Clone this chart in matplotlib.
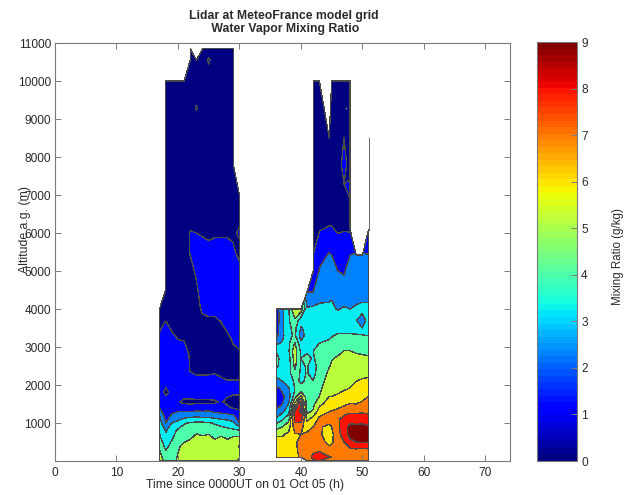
import numpy as np
import matplotlib
matplotlib.use('Agg')
import matplotlib.pyplot as plt
from matplotlib.cm import ScalarMappable
from matplotlib.colors import Normalize

N = np.nan

plt.rcParams['font.family'] = ['Liberation Sans', 'DejaVu Sans']

# first measurement block, one list per time, bottom to top
alt_a = [0, 200, 400, 600, 800, 1000, 1200, 1400, 1550, 1800, 2000, 2400, 2800, 3200, 3600, 4000,
         4500, 5000, 5500, 6000, 6500, 7000, 7800, 9000, 9300, 9600, 10000, 10550, 10850]
time_a = [17, 18, 19, 20, 21, 22, 23, 24, 25, 26, 27, 28, 29, 30]
t17 = [5.6, 5.2, 4.8, 4.2, 3.9, 3.5, 3.0, 2.0, 1.6, 1.5, 1.6, 1.6, 1.6, 1.2, 0.8, 0.7] + [N] * 13
t18 = [4.6, 4.2, 3.7, 3.3, 2.9, 2.0, 1.6, 1.5, 1.5, 0.8, 1.1, 1.6, 1.6, 1.4, 1.1, 0.6] + [0.6] * 11 + [N, N]
t19 = [4.8, 4.6, 4.3, 3.9, 3.5, 3.0, 2.1, 1.6, 1.5, 1.2, 1.4, 1.5, 1.5, 1.2, 0.8, 0.6] + [0.6] * 11 + [N, N]
t20 = [5.1, 5.0, 4.8, 4.4, 4.2, 3.3, 2.4, 1.6, 1.1, 1.5, 1.5, 1.5, 1.5, 1.0, 0.8, 0.6] + [0.6] * 11 + [N, N]
t21 = [5.4, 5.4, 5.3, 4.6, 4.4, 3.9, 2.5, 1.5, 0.8, 1.4, 1.4, 1.3, 1.4, 0.95, 0.7, 0.6] + [0.6] * 11 + [N, N]
t22 = [5.5, 5.5, 5.6, 4.9, 4.5, 4.1, 2.6, 1.4, 0.8, 1.4, 1.3, 0.95, 0.9, 0.8, 0.7, 0.6,
       0.6, 0.8, 1.05, 1.05, 0.6, 0.6, 0.6, 0.6, 0.6, 0.6, 0.6, 0.6, 0.6]
t23 = [5.5, 5.6, 5.7, 5.4, 4.7, 4.2, 2.7, 1.5, 0.8, 1.5, 1.4, 0.8, 0.7, 0.7, 0.7, 0.8,
       0.9, 1.1, 1.3, 1.0, 0.6, 0.6, 0.6, 0.6, 1.1, 0.6, 0.6, 0.7, N]
t24 = [5.5, 5.6, 5.6, 5.2, 4.6, 4.2, 2.6, 1.5, 0.8, 1.6, 1.4, 0.8, 0.7, 0.7, 0.8, 1.1,
       1.3, 1.4, 1.4, 0.9, 0.6, 0.6, 0.6, 0.6, 0.6, 0.6, 0.6, 0.6, 0.6]
t25 = [5.5, 5.6, 5.6, 5.3, 4.7, 4.1, 2.6, 1.6, 0.8, 1.6, 1.4, 0.8, 0.7, 0.7, 0.8, 1.2,
       1.4, 1.4, 1.3, 0.8, 0.6, 0.6, 0.6, 0.6, 0.6, 0.6, 0.6, 1.1, 0.6]
t26 = [5.5, 5.6, 5.6, 4.9, 4.5, 3.9, 2.4, 1.4, 0.9, 1.4, 1.3, 0.9, 0.7, 0.7, 0.8, 1.2,
       1.4, 1.4, 1.3, 0.9, 0.6, 0.6, 0.6, 0.6, 0.6, 0.6, 0.6, 0.6, 0.6]
t27 = [5.5, 5.5, 5.6, 5.2, 4.4, 3.7, 2.3, 1.3, 1.1, 1.3, 1.1, 0.9, 0.7, 0.7, 0.95, 1.3,
       1.4, 1.4, 1.3, 0.9, 0.6, 0.6, 0.6, 0.6, 0.6, 0.6, 0.6, 0.6, 0.6]
t28 = [5.6, 5.5, 5.5, 4.9, 4.3, 3.5, 2.2, 1.2, 0.8, 1.2, 1.1, 0.8, 0.7, 0.8, 1.2, 1.4,
       1.4, 1.4, 1.3, 0.9, 0.6, 0.6, 0.6, 0.6, 0.6, 0.6, 0.6, 0.6, 0.6]
t29 = [5.7, 5.7, 5.5, 5.2, 4.2, 3.2, 2.1, 0.9, 0.7, 1.1, 1.1, 0.8, 0.8, 1.1, 1.3, 1.4,
       1.4, 1.4, 1.1, 0.9, 0.6, 0.6, 0.6, 0.6, 0.6, 0.6, 0.6, 0.6, 0.6]
t30 = [6.2, 5.7, 6.1, 5.2, 4.1, 2.0, 1.5, 0.8, 0.7, 1.1, 1.1, 0.8, 0.9, 1.2, 1.3, 1.4,
       1.4, 1.2, 0.8, 1.1, 0.8, 0.6] + [N] * 7

# second measurement block
alt_b = [0, 100, 300, 500, 700, 900, 1100, 1300, 1500, 1700, 1900, 2100, 2300, 2500, 2700, 2900,
         3100, 3300, 3500, 3700, 4000, 4450, 5000, 5420, 6080, 6500, 7300, 7800, 8500, 10000]
time_b = [36, 37, 38, 39, 40, 41, 42, 43, 44.6, 45, 46, 47, 48, 49, 50, 51]
t36 = [N, 6.5, 6.4, 6.3, 5.9, 4.5, 3.2, 2.2, 1.6, 1.4, 1.7, 2.5, 3.5, 4.2, 4.3, 3.9, 2.8, 1.7, 1.5, 1.4, 1.4] + [N] * 9
t37 = [N, 6.4, 6.4, 6.3, 5.9, 5.0, 3.9, 2.8, 2.0, 1.8, 2.2, 3.0, 3.3, 3.5, 3.6, 3.4, 3.1, 2.8, 2.8, 2.8, 2.9] + [N] * 9
t38 = [N, 6.3, 6.4, 6.4, 6.2, 5.6, 4.7, 3.6, 3.0, 2.5, 2.9, 3.3, 3.6, 3.5, 3.6, 3.9, 3.8, 3.7, 3.8, 3.9, 3.9] + [N] * 9
t39 = [N, 6.6, 6.8, 6.9, 6.9, 7.5, 8.4, 8.0, 6.3, 4.5, 4.0, 4.2, 4.8, 5.2, 5.5, 5.6, 5.1, 4.2, 4.3, 4.8, 6.1] + [N] * 9
t40 = [N, 7.2, 7.3, 7.2, 7.0, 7.2, 8.5, 9.2, 9.0, 6.2, 4.2, 3.9, 3.8, 3.9, 4.0, 3.8, 3.3, 2.5, 2.9, 3.4, 5.6] + [N] * 9
t41 = [7.7, 7.6, 7.4, 7.3, 7.2, 6.6, 5.7, 4.8, 4.5, 4.4, 4.2, 4.1, 4.05, 4.05, 4.1, 3.95, 3.7, 3.4, 3.3, 3.2, 3.1, 2.0] + [N] * 8
t42 = [7.9, 8.2, 7.8, 7.5, 7.3, 7.0, 6.5, 5.1, 4.8, 4.5, 4.2, 4.02, 3.75, 3.7, 3.95, 4.0, 3.8, 3.6, 3.4, 3.2, 3.2,
       2.0, 0.9, 1.0, 0.7, 0.6, 0.6, 0.6, 0.6, 0.6]
t43 = [8.0, 8.3, 7.9, 7.3, 7.1, 7.05, 7.2, 6.6, 5.7, 5.0, 4.8, 4.6, 4.4, 4.3, 4.2, 4.1, 4.0, 3.7, 3.5, 3.3, 3.2,
       2.6, 2.1, 1.6, 0.97, 0.6, 0.6, 0.6, 0.6, 0.6]
t44 = [7.5, 8.05, 7.2, 6.8, 6.7, 6.9, 7.2, 7.0, 6.5, 6.0, 5.7, 5.4, 5.2, 4.95, 4.7, 4.4, 4.1, 3.9, 3.6, 3.4, 3.2,
       2.7, 2.3, 2.1, 1.1, 0.7, 0.6, 0.6, 0.6, N]
t45 = [7.5, 8.0, 7.3, 6.9, 6.8, 7.0, 7.3, 7.05, 6.5, 6.0, 5.7, 5.5, 5.3, 5.1, 4.95, 4.6, 4.2, 3.95, 3.6, 3.3, 3.1,
       2.9, 2.5, 2.0, 1.1, 0.7, 0.6, 0.6, 0.6, 0.6]
t46 = [7.4, 7.3, 7.4, 7.4, 7.6, 7.7, 7.8, 7.2, 6.7, 6.1, 5.8, 5.6, 5.4, 5.3, 5.1, 4.8, 4.4, 4.1, 3.7, 3.4, 2.95,
       2.6, 2.0, 1.6, 0.9, 0.6, 0.6, 0.6, 0.6, 0.6]
t47 = [7.3, 7.3, 7.5, 8.0, 8.6, 8.7, 8.4, 7.6, 6.8, 6.4, 5.9, 5.7, 5.6, 5.4, 5.2, 5.0, 4.5, 4.1, 3.7, 3.4, 3.1,
       2.4, 1.9, 1.5, 0.97, 0.6, 1.0, 1.3, 1.0, 0.6]
t48 = [7.4, 7.5, 7.8, 8.8, 9.3, 9.2, 8.7, 7.8, 7.05, 6.4, 6.05, 5.7, 5.5, 5.4, 5.2, 5.0, 4.5, 4.1, 3.7, 3.4, 3.0,
       2.8, 2.4, 2.0, 0.9, 0.9, 1.1, 0.6, 0.6, 0.6]
t49 = [7.5, 7.6, 7.9, 9.0, 9.4, 9.2, 8.6, 7.8, 7.0, 6.5, 6.3, 6.0, 5.7, 5.5, 5.2, 4.9, 4.5, 4.1, 3.6, 3.0, 3.1,
       2.7, 2.3, 2.1] + [N] * 6
t50 = [7.5, 7.5, 7.8, 9.1, 9.5, 9.3, 8.5, 7.9, 7.2, 6.7, 6.4, 6.1, 5.8, 5.5, 5.2, 4.8, 4.4, 4.1, 3.0, 2.7, 3.2,
       2.7, 2.3, 2.1] + [N] * 6
t51 = [7.5, 7.6, 7.9, 9.0, 9.3, 9.1, 8.4, 7.8, 7.5, 7.0, 6.5, 6.2, 5.8, 5.5, 5.1, 4.8, 4.4, 4.0, 3.5, 3.3, 3.2,
       2.7, 2.3, 2.02, 1.0] + [N] * 5
# thin profile sticking out of the top of the last column, and one lone speck
spike_time = [51, 51]
spike_alt = [6080, 8500]
speck_time = [47.3]
speck_alt = [9300]

levels = [0, 1, 2, 3, 4, 5, 6, 7, 8, 9, 10]
# where on the 0-9 colour scale each filled band takes its colour
band_color_at = [0, 1, 2.25, 3.2, 4, 5.2, 6, 7, 8, 9]
x_ticks = [0, 10, 20, 30, 40, 50, 60, 70]
y_ticks = [1000, 2000, 3000, 4000, 5000, 6000, 7000, 8000, 9000, 10000, 11000]
cbar_ticks = [0, 1, 2, 3, 4, 5, 6, 7, 8, 9]

W, H = 640, 495
GREY = '#7a7a7a'
TXT = '#2a2a2a'
fig = plt.figure(figsize=(W / 100, H / 100), dpi=100)
ax = fig.add_axes([55 / W, (H - 461) / H, 455 / W, 418 / H])
cax = fig.add_axes([537 / W, (H - 461) / H, 40 / W, 419 / H])

jet = plt.get_cmap('jet', 64)
fill_colors = [plt.get_cmap('jet')(v / 9) for v in band_color_at]

grid_a = np.column_stack([t17, t18, t19, t20, t21, t22, t23, t24, t25, t26, t27, t28, t29, t30])
grid_b = np.column_stack([t36, t37, t38, t39, t40, t41, t42, t43, t44, t45, t46, t47, t48, t49, t50, t51])
for tt, aa, zz in [(time_a, alt_a, grid_a), (time_b, alt_b, grid_b)]:
    cs = ax.contourf(tt, aa, zz, levels=levels, colors=fill_colors)
    cs.set_edgecolor('#4a4a4a')
    cs.set_linewidth(0.2)
ax.plot(spike_time, spike_alt, color='#666666', lw=0.7)
ax.plot(speck_time, speck_alt, 'o', color='#9a9a50', ms=1.2, mew=0)

ax.set_xlim(0, 74)
ax.set_ylim(0, 11000)
ax.set_xticks(x_ticks)
ax.set_yticks(y_ticks)
ax.tick_params(direction='in', length=4, width=0.7, color=GREY, top=True, right=True,
               labelsize=8.6, pad=3, labelcolor=TXT)
ax.tick_params(axis='x', pad=4)
for sp in ax.spines.values():
    sp.set_linewidth(0.8)
    sp.set_color(GREY)
# the labels sit off centre in the original, the y label runs over the tick labels
ax.set_xlabel('Time since 0000UT on 01 Oct 05 (h)', fontsize=8.8, color=TXT, va='center')
ax.xaxis.set_label_coords(0.4176, -0.0575)
ax.set_ylabel('Altitude a.g. (m)', fontsize=8.8, color=TXT, va='center')
ax.yaxis.set_label_coords(-0.066, 0.553)
ax.set_title('Lidar at MeteoFrance model grid\n Water Vapor Mixing Ratio', fontsize=8.8, fontweight='bold',
             x=0.503, pad=8, linespacing=1.05, color=TXT)

cb = fig.colorbar(ScalarMappable(Normalize(0, 9), jet), cax=cax)
cb.set_ticks(cbar_ticks)
cb.ax.tick_params(direction='in', length=4, width=0.7, color=GREY, labelsize=8.6, pad=3, labelcolor=TXT)
cb.outline.set_linewidth(0.8)
cb.outline.set_edgecolor(GREY)
cb.set_label('Mixing Ratio (g/kg)', fontsize=8.3, color=TXT, va='center')
cax.yaxis.set_label_coords((618 - 537) / 40, (461 - 257) / 419)

fig.savefig('out.png', dpi=100)
